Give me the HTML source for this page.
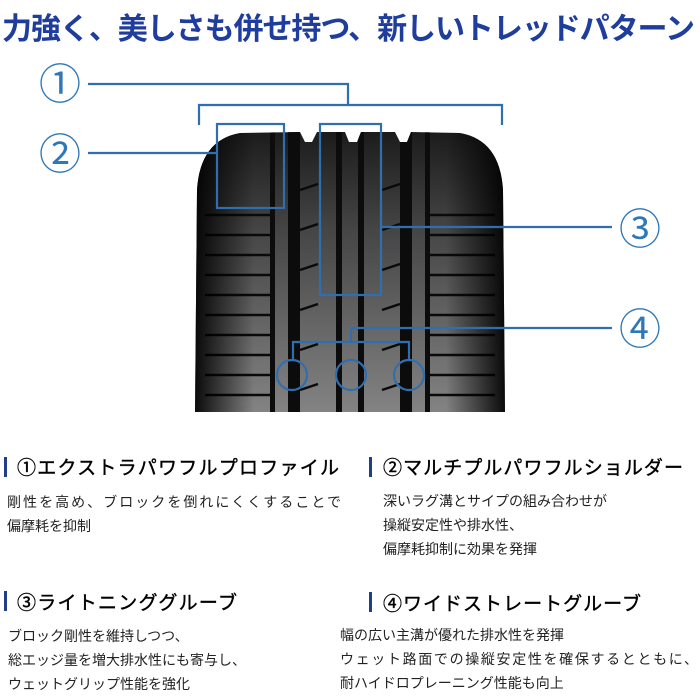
<!DOCTYPE html>
<html><head><meta charset="utf-8"><style>
body{margin:0;width:700px;height:700px;background:#fff;overflow:hidden;font-family:"Liberation Sans","Noto Sans CJK JP",sans-serif;}
</style></head><body>
<svg width="700" height="700" xmlns="http://www.w3.org/2000/svg" style="position:absolute;left:0;top:0">
<defs>
<clipPath id="tc"><path d="M195 412 L197 190 Q200 140 240 133 L300 132 L305 142 L312 142 L317 132 L345 132 L349 142 L357 142 L361 132 L395 132 L400 142 L407 142 L411 132 L460 133 Q500 140 503 190 L505 412 Z"/></clipPath>
<linearGradient id="rib" x1="0" y1="0" x2="0" y2="1">
<stop offset="0" stop-color="#1a1a1a"/><stop offset="0.35" stop-color="#454545"/><stop offset="1" stop-color="#858585"/>
</linearGradient>
<linearGradient id="sh" x1="0" y1="0" x2="1" y2="0">
<stop offset="0" stop-color="#000"/><stop offset="0.2" stop-color="#000" stop-opacity="0"/><stop offset="0.8" stop-color="#000" stop-opacity="0"/><stop offset="1" stop-color="#000"/>
</linearGradient>
</defs>
<text x="2" y="39" font-size="30" font-weight="bold" fill="#1f3d9c" textLength="693">力強く、美しさも併せ持つ、新しいトレッドパターン</text>
<g clip-path="url(#tc)">
<rect x="190" y="128" width="320" height="290" fill="url(#rib)"/>
<g fill="#0c0c0c">
<rect x="270" y="128" width="5" height="290"/>
<rect x="288" y="128" width="12" height="290"/>
<rect x="336" y="128" width="6" height="290"/>
<rect x="358" y="128" width="6" height="290"/>
<rect x="400" y="128" width="12" height="290"/>
<rect x="425" y="128" width="5" height="290"/>
</g>
<g stroke="#0a0a0a" stroke-width="2.5">
<path d="M205 215 H270 M205 235 H270 M205 255 H270 M205 275 H270 M205 295 H270 M205 315 H270 M205 335 H270 M205 355 H270 M205 375 H270 M205 395 H270"/>
<path d="M430 215 H495 M430 235 H495 M430 255 H495 M430 275 H495 M430 295 H495 M430 315 H495 M430 335 H495 M430 355 H495 M430 375 H495 M430 395 H495"/>
<path d="M300 190 l18 -6 M300 230 l18 -6 M300 270 l18 -6 M300 310 l18 -6 M300 350 l18 -6 M300 390 l18 -6"/>
<path d="M382 190 l18 -6 M382 230 l18 -6 M382 270 l18 -6 M382 310 l18 -6 M382 350 l18 -6 M382 390 l18 -6"/>
</g>
<rect x="190" y="128" width="320" height="290" fill="url(#sh)"/>
</g>
<g stroke="#2f6fb0" stroke-width="2.2" fill="none">
<path d="M88 84 H348 V105 M199 125 V105 H502 V125"/>
<rect x="217" y="124" width="67" height="84"/>
<path d="M88 153 H217"/>
<rect x="320" y="124" width="61" height="171"/>
<path d="M381 227 H612"/>
<path d="M612 328 H351 V342 M293 360 V342 H409 V360"/>
<circle cx="292" cy="375" r="15"/><circle cx="351" cy="375" r="15"/><circle cx="409" cy="375" r="15"/>
</g>
<g fill="#2f78b8" font-size="42">
<text x="39" y="99">①</text><text x="39" y="169">②</text><text x="619" y="244">③</text><text x="619" y="344">④</text>
</g>
<g fill="#1f3f8a"><rect x="4" y="457" width="3" height="20"/><rect x="369" y="457" width="3" height="20"/><rect x="4" y="591" width="3" height="20"/><rect x="369" y="592" width="3" height="20"/></g>
<g font-size="19" fill="#000" stroke="#000" stroke-width="0.4">
<text x="17" y="474" textLength="322">①エクストラパワフルプロファイル</text>
<text x="383" y="474" textLength="300">②マルチプルパワフルショルダー</text>
<text x="17" y="609" textLength="220">③ライトニンググルーブ</text>
<text x="383" y="610" textLength="258">④ワイドストレートグルーブ</text>
</g>
<g font-size="14" fill="#222">
<text x="7" y="507" textLength="334">剛性を高め、ブロックを倒れにくくすることで</text>
<text x="7" y="531">偏摩耗を抑制</text>
<text x="383" y="506">深いラグ溝とサイプの組み合わせが</text>
<text x="383" y="530">操縦安定性や排水性、</text>
<text x="383" y="554">偏摩耗抑制に効果を発揮</text>
<text x="8" y="641">ブロック剛性を維持しつつ、</text>
<text x="8" y="665">総エッジ量を増大排水性にも寄与し、</text>
<text x="8" y="689">ウェットグリップ性能を強化</text>
<text x="340" y="640">幅の広い主溝が優れた排水性を発揮</text>
<text x="340" y="664" textLength="358">ウェット路面での操縦安定性を確保するとともに、</text>
<text x="340" y="688">耐ハイドロプレーニング性能も向上</text>
</g>
</svg>
</body></html>
